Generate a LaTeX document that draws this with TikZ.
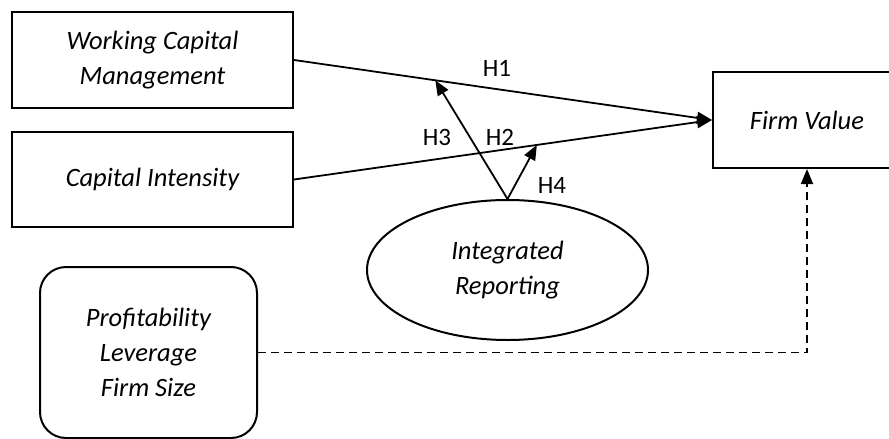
\documentclass[tikz,border=0pt]{standalone}
\usepackage{fontspec}
\setmainfont{Carlito}
\usetikzlibrary{arrows.meta,calc,shapes.geometric}
\begin{document}
\begin{tikzpicture}[x=1pt,y=-1pt,
  box/.style={draw,line width=2pt,inner sep=0pt,align=center,
    font=\fontsize{26.5}{35}\selectfont\itshape},
  lbl/.style={inner sep=0pt,font=\fontsize{25}{28}\selectfont},
  conn/.style={line width=1.8pt,-{Triangle[length=15pt,width=12pt]}},
  dconn/.style={line width=1.8pt,dash pattern=on 8pt off 5pt,-{Triangle[length=15pt,width=12pt]}}]
\clip (0,0) rectangle (889,439);
\node[box,minimum width=281pt,minimum height=96pt] (wcm) at (152.5,60) {Working Capital\\Management};
\node[box,minimum width=281pt,minimum height=95pt] (ci) at (152.5,179.5) {Capital Intensity};
\node[box,minimum width=188pt,minimum height=96pt] (fv) at (807,120) {Firm Value};
\node[box,ellipse,minimum width=281pt,minimum height=140pt] (ir) at (507.5,270) {Integrated\\Reporting};
\node[box,rounded corners=26pt,minimum width=217pt,minimum height=171pt] (pr) at (148.5,352.5) {Profitability\\Leverage\\Firm Size};
\coordinate (h3end) at ($(wcm.east)!0.338!(fv.west)$);
\coordinate (h4end) at ($(ci.east)!0.581!(fv.west)$);
\draw[conn] (wcm.east) -- (fv.west);
\draw[conn] (ci.east) -- (fv.west);
\draw[conn] (ir.north) -- (h3end);
\draw[conn] (ir.north) -- (h4end);
\draw[dconn] (pr.east) -| (fv.south);
\node[lbl] (h1) at (497,68) {H1};
\node[lbl] (h3) at (437,137) {H3};
\node[lbl] (h2) at (500,137) {H2};
\node[lbl] (h4) at (552,185) {H4};
\end{tikzpicture}
\end{document}
